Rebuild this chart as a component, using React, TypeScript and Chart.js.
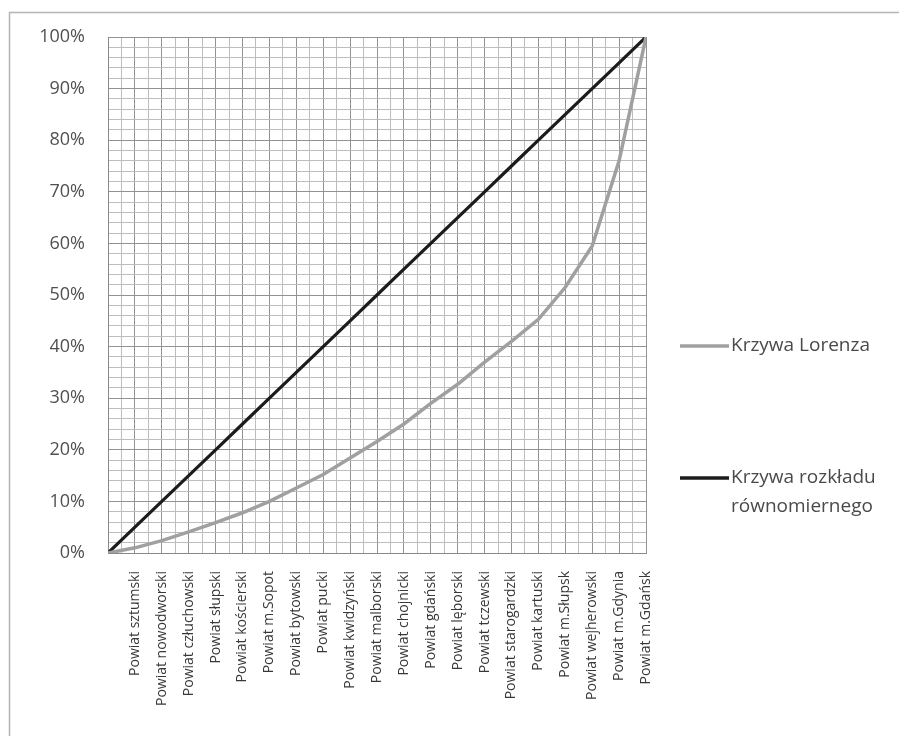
import React, { useEffect, useRef } from 'react';
import { Chart, registerables } from 'chart.js';

Chart.register(...registerables);

// ---- data ----
const counties: string[] = [
  'Powiat sztumski',
  'Powiat nowodworski',
  'Powiat człuchowski',
  'Powiat słupski',
  'Powiat kościerski',
  'Powiat m.Sopot',
  'Powiat bytowski',
  'Powiat pucki',
  'Powiat kwidzyński',
  'Powiat malborski',
  'Powiat chojnicki',
  'Powiat gdański',
  'Powiat lęborski',
  'Powiat tczewski',
  'Powiat starogardzki',
  'Powiat kartuski',
  'Powiat m.Słupsk',
  'Powiat wejherowski',
  'Powiat m.Gdynia',
  'Powiat m.Gdańsk',
];

// first value is the origin (0%), then one value per county (cumulative %)
const lorenzValues: number[] = [
  0, 1, 2.4, 4.1, 5.9, 7.8, 10, 12.6, 15.2, 18.4, 21.6, 25, 29, 32.7, 37, 41,
  45.3, 51.5, 59.5, 76, 100,
];
const uniformValues: number[] = [
  0, 5, 10, 15, 20, 25, 30, 35, 40, 45, 50, 55, 60, 65, 70, 75, 80, 85, 90, 95,
  100,
];

const seriesNames: string[] = ['Krzywa Lorenza', 'Krzywa rozkładu równomiernego'];
const legendLines: string[][] = [['Krzywa Lorenza'], ['Krzywa rozkładu', 'równomiernego']];
const yMajorTicks: number[] = [0, 10, 20, 30, 40, 50, 60, 70, 80, 90, 100];

// ---- styles ----
const W = 899;
const H = 736;
const MAJOR_GRID = '#939393';
const MINOR_GRID = '#bdbdbd';
const LORENZ_COLOR = '#a0a0a0';
const UNIFORM_COLOR = '#1c1c1c';

const toPoints = (vals: number[]) => vals.map((v, i) => ({ x: i, y: v }));

const framePlugin = {
  id: 'frame',
  beforeDraw(chart: any) {
    const { ctx } = chart;
    ctx.save();
    ctx.fillStyle = '#ffffff';
    ctx.fillRect(0, 0, W, H);
    ctx.strokeStyle = '#b4b4b4';
    ctx.lineWidth = 1.5;
    ctx.beginPath();
    ctx.moveTo(W, 12.5);
    ctx.lineTo(9.5, 12.5);
    ctx.lineTo(9.5, H);
    ctx.stroke();
    ctx.restore();
  },
};

const sideLegendPlugin = {
  id: 'sideLegend',
  afterDraw(chart: any) {
    const { ctx } = chart;
    const ys = [346, 478];
    ctx.save();
    chart.data.datasets.forEach((ds: any, i: number) => {
      const y = ys[i];
      ctx.strokeStyle = ds.borderColor;
      ctx.lineWidth = 3.5;
      ctx.beginPath();
      ctx.moveTo(680, y);
      ctx.lineTo(729, y);
      ctx.stroke();
      ctx.fillStyle = '#4a4a4a';
      ctx.font = '19px "Open Sans"';
      ctx.textBaseline = 'middle';
      ctx.textAlign = 'left';
      legendLines[i].forEach((line, j) => {
        ctx.fillText(line, 731, y + j * 29);
      });
    });
    ctx.restore();
  },
};

export default function App() {
  const canvasRef = useRef<HTMLCanvasElement | null>(null);

  useEffect(() => {
    const canvas = canvasRef.current;
    if (!canvas) return;
    const chart = new Chart(canvas, {
      type: 'line',
      data: {
        datasets: [
          {
            label: seriesNames[0],
            data: toPoints(lorenzValues),
            borderColor: LORENZ_COLOR,
            borderWidth: 3.5,
            pointRadius: 0,
            tension: 0,
          },
          {
            label: seriesNames[1],
            data: toPoints(uniformValues),
            borderColor: UNIFORM_COLOR,
            borderWidth: 3.2,
            pointRadius: 0,
            tension: 0,
          },
        ],
      },
      options: {
        responsive: false,
        animation: false,
        devicePixelRatio: 1,
        layout: { padding: { left: 0, top: 37, right: W - 646, bottom: 0 } },
        plugins: {
          legend: { display: false },
          tooltip: { enabled: false },
        },
        scales: {
          x: {
            type: 'linear',
            min: 0,
            max: counties.length,
            afterFit: (scale: any) => {
              scale.height = H - 553;
            },
            ticks: {
              stepSize: 0.5,
              autoSkip: false,
              maxTicksLimit: 1000,
              minRotation: 90,
              maxRotation: 90,
              padding: 18,
              color: '#383838',
              font: { family: '"Open Sans"', size: 14 },
              callback: (v: any) => {
                const n = Number(v);
                return Number.isInteger(n) && n > 0 ? counties[n - 1] : '';
              },
            },
            grid: {
              drawTicks: false,
              color: (c: any) =>
                c.tick && Number.isInteger(c.tick.value) ? MAJOR_GRID : MINOR_GRID,
              lineWidth: 1,
            },
            border: { display: true, color: '#8a8a8a', width: 1 },
          },
          y: {
            type: 'linear',
            min: 0,
            max: 100,
            afterFit: (scale: any) => {
              scale.width = 108;
            },
            ticks: {
              stepSize: 2,
              autoSkip: false,
              maxTicksLimit: 1000,
              padding: 23,
              color: '#505050',
              font: { family: '"Open Sans"', size: 18 },
              callback: (v: any) => (yMajorTicks.includes(Number(v)) ? `${v}%` : ''),
            },
            grid: {
              drawTicks: false,
              color: (c: any) =>
                c.tick && yMajorTicks.includes(c.tick.value) ? MAJOR_GRID : MINOR_GRID,
              lineWidth: 1,
            },
            border: { display: true, color: '#8a8a8a', width: 1 },
          },
        },
      },
      plugins: [framePlugin, sideLegendPlugin],
    } as any);
    return () => chart.destroy();
  }, []);

  return (
    <div style={{ position: 'fixed', left: 0, top: 0, width: W, height: H }}>
      <canvas ref={canvasRef} width={W} height={H} style={{ display: 'block' }} />
    </div>
  );
}
